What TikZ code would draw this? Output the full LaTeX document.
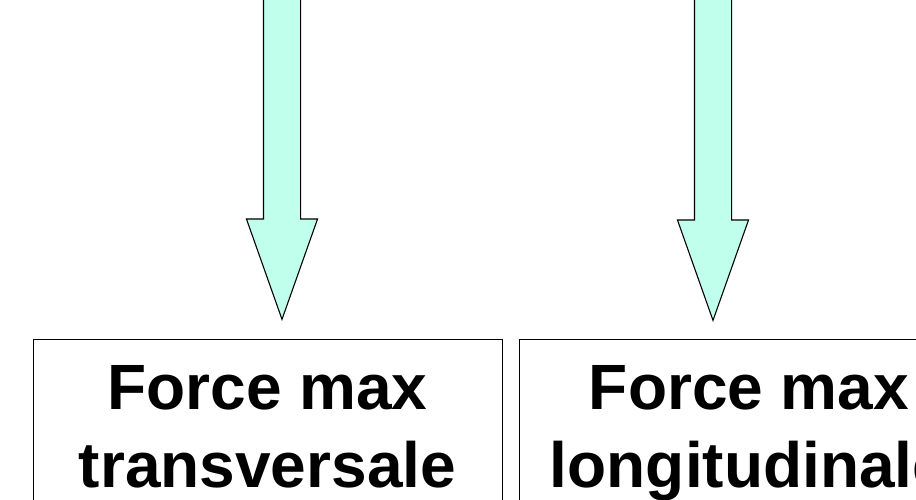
\documentclass[tikz,border=0pt]{standalone}
\usepackage{fontspec}
\setmainfont{Liberation Sans}
\usetikzlibrary{shapes.arrows, positioning}
\definecolor{arrowcyan}{RGB}{192,255,236}
\tikzstyle{bigarrow} = [single arrow, draw=black, line width=1.1pt, fill=arrowcyan, rotate=-90, anchor=tip, inner xsep=0pt, inner ysep=18pt, minimum height=345pt, single arrow head extend=17pt, single arrow tip angle=39, single arrow head indent=0pt]
\tikzstyle{forcebox} = [rectangle, draw=black, semithick, anchor=north, inner ysep=26pt, align=center, font=\fontsize{64}{78}\selectfont\bfseries]

\begin{document}
\begin{tikzpicture}[x=1pt, y=-1pt]
	\useasboundingbox (0,0) rectangle (916,500);
	\clip (0,0) rectangle (916,500);
	\node (Transversale) [forcebox, minimum width=469pt] at (267.5,339) {Force max\\transversale};
	\node (Longitudinale) [forcebox, minimum width=460pt] at (749,339) {Force max\\longitudinale};
	\node (ArrowTrans) [bigarrow] at (282,321) {};
	\node (ArrowLong) [bigarrow] at (713,322) {};
\end{tikzpicture}
\end{document}
